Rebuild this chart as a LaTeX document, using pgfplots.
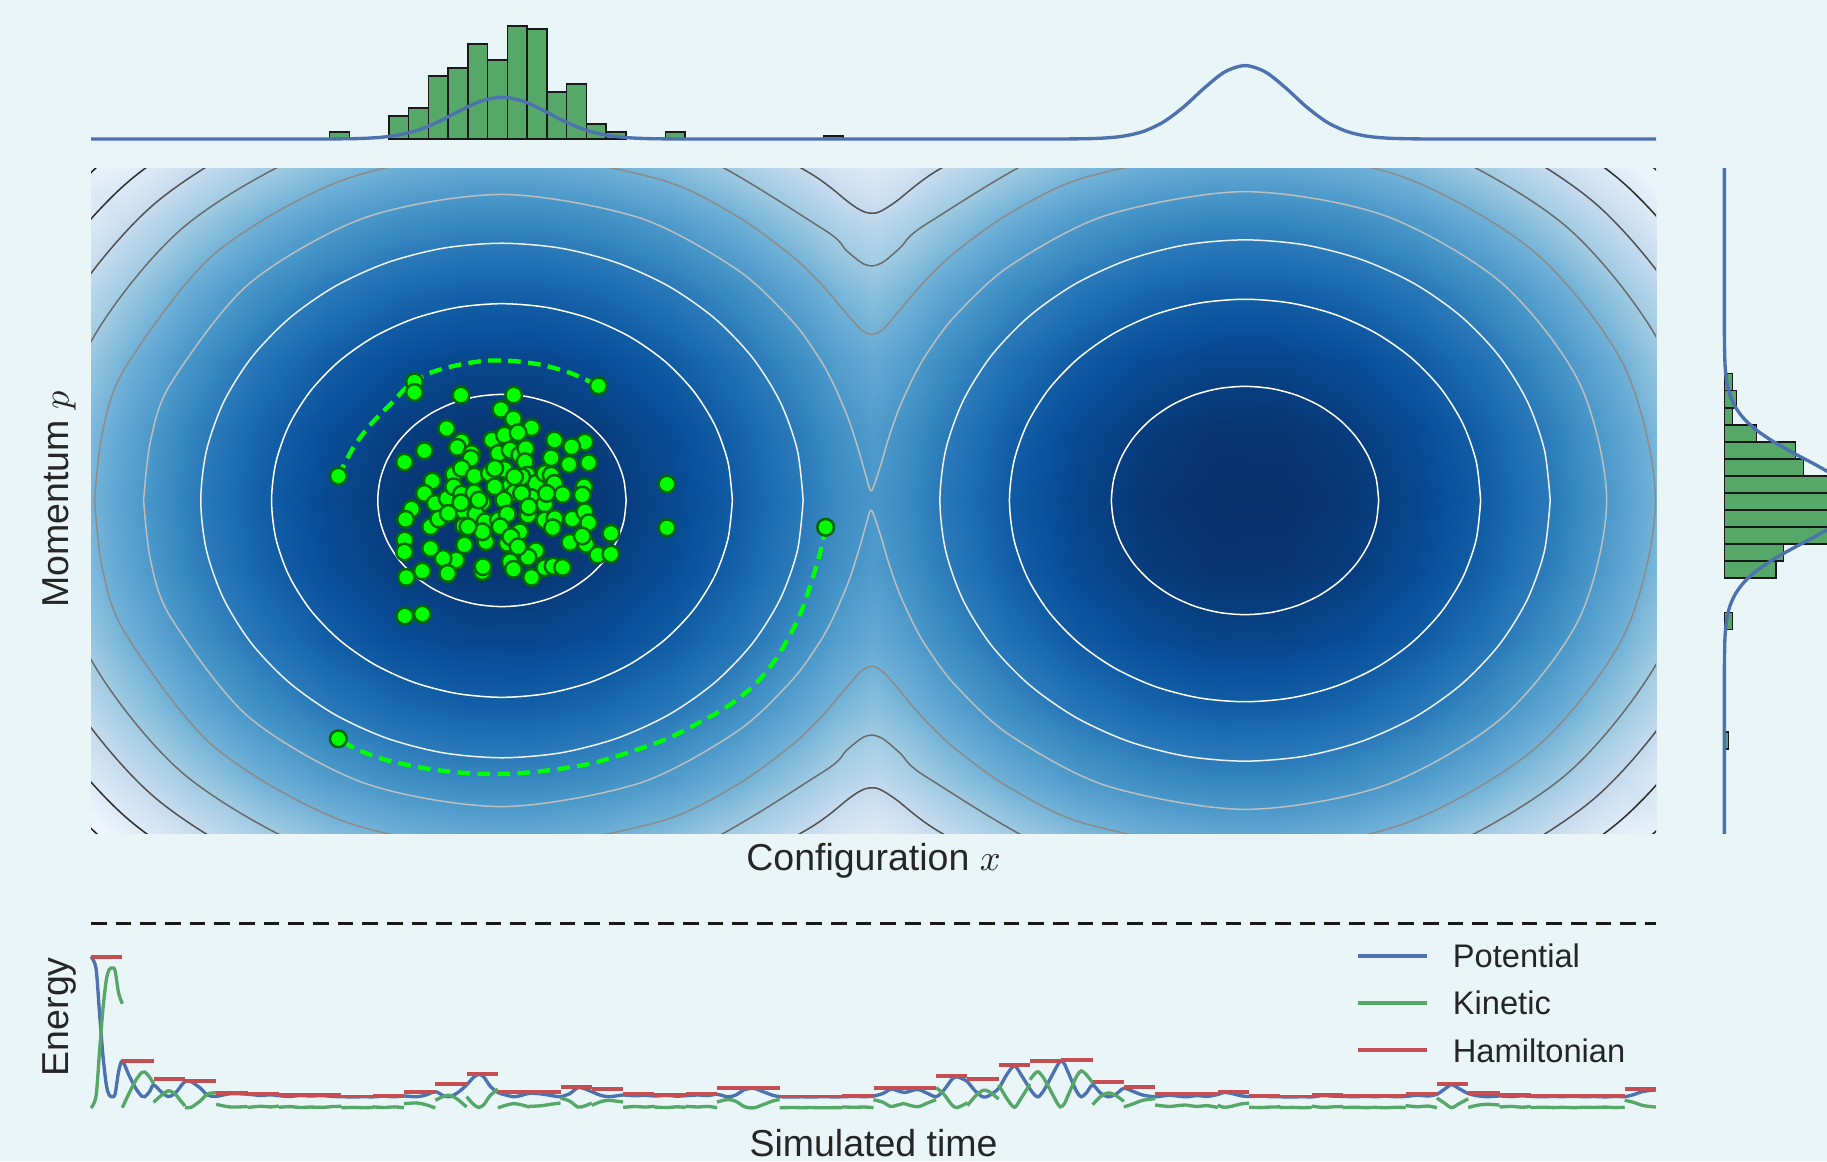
\documentclass[border=0pt]{standalone}
\usepackage{fontspec}
\setmainfont{Liberation Sans}
\usepackage{pgfplots}
\pgfplotsset{compat=1.18}
\definecolor{bgc}{RGB}{234,245,248}
\definecolor{sbblue}{RGB}{76,114,176}
\definecolor{sbgreen}{RGB}{85,168,104}
\definecolor{sbred}{RGB}{196,78,82}
\definecolor{txt}{RGB}{38,38,38}
\definecolor{dotgreen}{RGB}{0,255,0}
\definecolor{dotedge}{RGB}{0,105,0}
\pgfplotsset{
  bare/.style={scale only axis, hide axis, anchor=south west},
  cont/.style={smooth, line width=0.45pt},
  bars/.style={fill=sbgreen, draw=black!90, line width=0.5pt},
}
\begin{document}
\begin{tikzpicture}
\useasboundingbox (0pt,0pt) rectangle (548.1pt,348.3pt);
\clip (0pt,0pt) rectangle (548.1pt,348.3pt);
\fill[bgc] (0pt,0pt) rectangle (548.1pt,348.3pt);

% ---------- heat map of the Hamiltonian ----------
\begin{axis}[bare, at={(27.3pt,98.4pt)}, width=469.5pt, height=199.5pt,
  view={0}{90}, scale mode=stretch to fill,
  xmin=-5.739, xmax=5.739, ymin=-2.855, ymax=2.855,
  colormap={sbblues}{rgb255=(8,48,107) rgb255=(8,81,156) rgb255=(33,113,181) rgb255=(66,146,198) rgb255=(107,174,214) rgb255=(158,202,225) rgb255=(198,219,239) rgb255=(222,235,247) rgb255=(247,251,255)},
  point meta min=0, point meta max=17.4]
\addplot3[surf, shader=interp, point meta=z] table {
x y z
-6 -3 19.73
-5.5 -3 16.70
-5 -3 14.18
-4.5 -3 12.15
-4 -3 10.63
-3.5 -3 9.60
-3 -3 9.08
-2.5 -3 9.05
-2 -3 9.53
-1.5 -3 10.50
-1 -3 11.98
-0.5 -3 13.95
-0.25 -3 15.11
0 -3 15.90
0.25 -3 14.99
0.5 -3 13.82
1 -3 11.85
1.5 -3 10.37
2 -3 9.40
2.5 -3 8.92
3 -3 8.95
3.5 -3 9.47
4 -3 10.50
4.5 -3 12.02
5 -3 14.05
5.5 -3 16.57
6 -3 19.60

-6 -2.4 16.49
-5.5 -2.4 13.46
-5 -2.4 10.94
-4.5 -2.4 8.91
-4 -2.4 7.39
-3.5 -2.4 6.36
-3 -2.4 5.84
-2.5 -2.4 5.81
-2 -2.4 6.29
-1.5 -2.4 7.26
-1 -2.4 8.74
-0.5 -2.4 10.71
-0.25 -2.4 11.87
0 -2.4 12.66
0.25 -2.4 11.75
0.5 -2.4 10.58
1 -2.4 8.61
1.5 -2.4 7.13
2 -2.4 6.16
2.5 -2.4 5.68
3 -2.4 5.71
3.5 -2.4 6.23
4 -2.4 7.26
4.5 -2.4 8.78
5 -2.4 10.81
5.5 -2.4 13.33
6 -2.4 16.36

-6 -1.8 13.97
-5.5 -1.8 10.94
-5 -1.8 8.42
-4.5 -1.8 6.39
-4 -1.8 4.87
-3.5 -1.8 3.84
-3 -1.8 3.32
-2.5 -1.8 3.29
-2 -1.8 3.77
-1.5 -1.8 4.74
-1 -1.8 6.22
-0.5 -1.8 8.19
-0.25 -1.8 9.35
0 -1.8 10.14
0.25 -1.8 9.23
0.5 -1.8 8.06
1 -1.8 6.09
1.5 -1.8 4.61
2 -1.8 3.64
2.5 -1.8 3.16
3 -1.8 3.19
3.5 -1.8 3.71
4 -1.8 4.74
4.5 -1.8 6.26
5 -1.8 8.29
5.5 -1.8 10.81
6 -1.8 13.84

-6 -1.2 12.17
-5.5 -1.2 9.14
-5 -1.2 6.62
-4.5 -1.2 4.59
-4 -1.2 3.07
-3.5 -1.2 2.04
-3 -1.2 1.52
-2.5 -1.2 1.49
-2 -1.2 1.97
-1.5 -1.2 2.94
-1 -1.2 4.42
-0.5 -1.2 6.39
-0.25 -1.2 7.55
0 -1.2 8.34
0.25 -1.2 7.43
0.5 -1.2 6.26
1 -1.2 4.29
1.5 -1.2 2.81
2 -1.2 1.84
2.5 -1.2 1.36
3 -1.2 1.39
3.5 -1.2 1.91
4 -1.2 2.94
4.5 -1.2 4.46
5 -1.2 6.49
5.5 -1.2 9.01
6 -1.2 12.04

-6 -0.6 11.09
-5.5 -0.6 8.06
-5 -0.6 5.54
-4.5 -0.6 3.51
-4 -0.6 1.99
-3.5 -0.6 0.96
-3 -0.6 0.44
-2.5 -0.6 0.41
-2 -0.6 0.89
-1.5 -0.6 1.86
-1 -0.6 3.34
-0.5 -0.6 5.31
-0.25 -0.6 6.47
0 -0.6 7.26
0.25 -0.6 6.35
0.5 -0.6 5.18
1 -0.6 3.21
1.5 -0.6 1.73
2 -0.6 0.76
2.5 -0.6 0.28
3 -0.6 0.31
3.5 -0.6 0.83
4 -0.6 1.86
4.5 -0.6 3.38
5 -0.6 5.41
5.5 -0.6 7.93
6 -0.6 10.96

-6 0 10.73
-5.5 0 7.70
-5 0 5.18
-4.5 0 3.15
-4 0 1.63
-3.5 0 0.60
-3 0 0.08
-2.5 0 0.05
-2 0 0.53
-1.5 0 1.50
-1 0 2.98
-0.5 0 4.95
-0.25 0 6.11
0 0 6.90
0.25 0 5.99
0.5 0 4.82
1 0 2.85
1.5 0 1.37
2 0 0.40
2.5 0 -0.08
3 0 -0.05
3.5 0 0.47
4 0 1.50
4.5 0 3.02
5 0 5.05
5.5 0 7.57
6 0 10.60

-6 0.6 11.09
-5.5 0.6 8.06
-5 0.6 5.54
-4.5 0.6 3.51
-4 0.6 1.99
-3.5 0.6 0.96
-3 0.6 0.44
-2.5 0.6 0.41
-2 0.6 0.89
-1.5 0.6 1.86
-1 0.6 3.34
-0.5 0.6 5.31
-0.25 0.6 6.47
0 0.6 7.26
0.25 0.6 6.35
0.5 0.6 5.18
1 0.6 3.21
1.5 0.6 1.73
2 0.6 0.76
2.5 0.6 0.28
3 0.6 0.31
3.5 0.6 0.83
4 0.6 1.86
4.5 0.6 3.38
5 0.6 5.41
5.5 0.6 7.93
6 0.6 10.96

-6 1.2 12.17
-5.5 1.2 9.14
-5 1.2 6.62
-4.5 1.2 4.59
-4 1.2 3.07
-3.5 1.2 2.04
-3 1.2 1.52
-2.5 1.2 1.49
-2 1.2 1.97
-1.5 1.2 2.94
-1 1.2 4.42
-0.5 1.2 6.39
-0.25 1.2 7.55
0 1.2 8.34
0.25 1.2 7.43
0.5 1.2 6.26
1 1.2 4.29
1.5 1.2 2.81
2 1.2 1.84
2.5 1.2 1.36
3 1.2 1.39
3.5 1.2 1.91
4 1.2 2.94
4.5 1.2 4.46
5 1.2 6.49
5.5 1.2 9.01
6 1.2 12.04

-6 1.8 13.97
-5.5 1.8 10.94
-5 1.8 8.42
-4.5 1.8 6.39
-4 1.8 4.87
-3.5 1.8 3.84
-3 1.8 3.32
-2.5 1.8 3.29
-2 1.8 3.77
-1.5 1.8 4.74
-1 1.8 6.22
-0.5 1.8 8.19
-0.25 1.8 9.35
0 1.8 10.14
0.25 1.8 9.23
0.5 1.8 8.06
1 1.8 6.09
1.5 1.8 4.61
2 1.8 3.64
2.5 1.8 3.16
3 1.8 3.19
3.5 1.8 3.71
4 1.8 4.74
4.5 1.8 6.26
5 1.8 8.29
5.5 1.8 10.81
6 1.8 13.84

-6 2.4 16.49
-5.5 2.4 13.46
-5 2.4 10.94
-4.5 2.4 8.91
-4 2.4 7.39
-3.5 2.4 6.36
-3 2.4 5.84
-2.5 2.4 5.81
-2 2.4 6.29
-1.5 2.4 7.26
-1 2.4 8.74
-0.5 2.4 10.71
-0.25 2.4 11.87
0 2.4 12.66
0.25 2.4 11.75
0.5 2.4 10.58
1 2.4 8.61
1.5 2.4 7.13
2 2.4 6.16
2.5 2.4 5.68
3 2.4 5.71
3.5 2.4 6.23
4 2.4 7.26
4.5 2.4 8.78
5 2.4 10.81
5.5 2.4 13.33
6 2.4 16.36

-6 3 19.73
-5.5 3 16.70
-5 3 14.18
-4.5 3 12.15
-4 3 10.63
-3.5 3 9.60
-3 3 9.08
-2.5 3 9.05
-2 3 9.53
-1.5 3 10.50
-1 3 11.98
-0.5 3 13.95
-0.25 3 15.11
0 3 15.90
0.25 3 14.99
0.5 3 13.82
1 3 11.85
1.5 3 10.37
2 3 9.40
2.5 3 8.92
3 3 8.95
3.5 3 9.47
4 3 10.50
4.5 3 12.02
5 3 14.05
5.5 3 16.57
6 3 19.60
};
\end{axis}

% ---------- contours, trajectories, samples ----------
\begin{axis}[bare, at={(27.3pt,98.4pt)}, width=469.5pt, height=199.5pt,
  xmin=-5.739, xmax=5.739, ymin=-2.855, ymax=2.855]
% level 0
\addplot[cont, white] coordinates {(-1.814,0) (-1.8315,0.1777) (-1.8833,0.3486) (-1.9675,0.5061) (-2.0808,0.6442) (-2.2189,0.7575) (-2.3764,0.8417) (-2.5473,0.8935) (-2.725,0.911) (-2.9027,0.8935) (-3.0736,0.8417) (-3.2311,0.7575) (-3.3692,0.6442) (-3.4825,0.5061) (-3.5667,0.3486) (-3.6185,0.1777) (-3.636,0) (-3.6185,-0.1777) (-3.5667,-0.3486) (-3.4825,-0.5061) (-3.3692,-0.6442) (-3.2311,-0.7575) (-3.0736,-0.8417) (-2.9027,-0.8935) (-2.725,-0.911) (-2.5473,-0.8935) (-2.3764,-0.8417) (-2.2189,-0.7575) (-2.0808,-0.6442) (-1.9675,-0.5061) (-1.8833,-0.3486) (-1.8315,-0.1777) (-1.814,0)};
\addplot[cont, white] coordinates {(3.705,0) (3.6862,0.1912) (3.6304,0.375) (3.5398,0.5445) (3.418,0.693) (3.2695,0.8148) (3.1,0.9054) (2.9162,0.9612) (2.725,0.98) (2.5338,0.9612) (2.35,0.9054) (2.1805,0.8148) (2.032,0.693) (1.9102,0.5445) (1.8196,0.375) (1.7638,0.1912) (1.745,0) (1.7638,-0.1912) (1.8196,-0.375) (1.9102,-0.5445) (2.032,-0.693) (2.1805,-0.8148) (2.35,-0.9054) (2.5338,-0.9612) (2.725,-0.98) (2.9162,-0.9612) (3.1,-0.9054) (3.2695,-0.8148) (3.418,-0.693) (3.5398,-0.5445) (3.6304,-0.375) (3.6862,-0.1912) (3.705,0)};
% level 1
\addplot[cont, white] coordinates {(-1.035,0) (-1.0675,0.3297) (-1.1636,0.6467) (-1.3198,0.9389) (-1.53,1.195) (-1.7861,1.4052) (-2.0783,1.5614) (-2.3953,1.6575) (-2.725,1.69) (-3.0547,1.6575) (-3.3717,1.5614) (-3.6639,1.4052) (-3.92,1.195) (-4.1302,0.9389) (-4.2864,0.6467) (-4.3825,0.3297) (-4.415,0) (-4.3825,-0.3297) (-4.2864,-0.6467) (-4.1302,-0.9389) (-3.92,-1.195) (-3.6639,-1.4052) (-3.3717,-1.5614) (-3.0547,-1.6575) (-2.725,-1.69) (-2.3953,-1.6575) (-2.0783,-1.5614) (-1.7861,-1.4052) (-1.53,-1.195) (-1.3198,-0.9389) (-1.1636,-0.6467) (-1.0675,-0.3297) (-1.035,0)};
\addplot[cont, white] coordinates {(4.453,0) (4.4198,0.3371) (4.3215,0.6613) (4.1618,0.96) (3.9469,1.2219) (3.685,1.4368) (3.3863,1.5965) (3.0621,1.6948) (2.725,1.728) (2.3879,1.6948) (2.0637,1.5965) (1.765,1.4368) (1.5031,1.2219) (1.2882,0.96) (1.1285,0.6613) (1.0302,0.3371) (0.997,0) (1.0302,-0.3371) (1.1285,-0.6613) (1.2882,-0.96) (1.5031,-1.2219) (1.765,-1.4368) (2.0637,-1.5965) (2.3879,-1.6948) (2.725,-1.728) (3.0621,-1.6948) (3.3863,-1.5965) (3.685,-1.4368) (3.9469,-1.2219) (4.1618,-0.96) (4.3215,-0.6613) (4.4198,-0.3371) (4.453,0)};
% level 2
\addplot[cont, white!94!black] coordinates {(-0.516,0) (-0.5584,0.431) (-0.6841,0.8453) (-0.8883,1.2273) (-1.163,1.562) (-1.4977,1.8367) (-1.8797,2.0409) (-2.294,2.1666) (-2.725,2.209) (-3.156,2.1666) (-3.5703,2.0409) (-3.9523,1.8367) (-4.287,1.562) (-4.5617,1.2273) (-4.7659,0.8453) (-4.8916,0.431) (-4.934,0) (-4.8916,-0.431) (-4.7659,-0.8453) (-4.5617,-1.2273) (-4.287,-1.562) (-3.9523,-1.8367) (-3.5703,-2.0409) (-3.156,-2.1666) (-2.725,-2.209) (-2.294,-2.1666) (-1.8797,-2.0409) (-1.4977,-1.8367) (-1.163,-1.562) (-0.8883,-1.2273) (-0.6841,-0.8453) (-0.5584,-0.431) (-0.516,0)};
\addplot[cont, white!94!black] coordinates {(4.963,0) (4.92,0.4366) (4.7926,0.8564) (4.5858,1.2434) (4.3075,1.5825) (3.9684,1.8608) (3.5814,2.0676) (3.1616,2.195) (2.725,2.238) (2.2884,2.195) (1.8686,2.0676) (1.4816,1.8608) (1.1425,1.5825) (0.8642,1.2434) (0.6574,0.8564) (0.53,0.4366) (0.487,0) (0.53,-0.4366) (0.6574,-0.8564) (0.8642,-1.2434) (1.1425,-1.5825) (1.4816,-1.8608) (1.8686,-2.0676) (2.2884,-2.195) (2.725,-2.238) (3.1616,-2.195) (3.5814,-2.0676) (3.9684,-1.8608) (4.3075,-1.5825) (4.5858,-1.2434) (4.7926,-0.8564) (4.92,-0.4366) (4.963,0)};
% level 3 (separatrix)
\addplot[cont, white!74!black] coordinates {(-5.353,0) (-5.3025,0.5127) (-5.153,1.006) (-4.583,1.858) (-3.731,2.428) (-2.725,2.628) (-1.719,2.428) (-1.0,1.982) (-0.6,1.546) (-0.4,1.225) (-0.3,1.015) (-0.2,0.748) (-0.15,0.584) (-0.1,0.395) (-0.05,0.19) (-0.015,0.084) (0.05,0.293) (0.1,0.494) (0.15,0.671) (0.2,0.825) (0.3,1.076) (0.4,1.277) (0.6,1.587) (1.0,2.015) (1.710,2.450) (2.725,2.652) (3.740,2.450) (4.600,1.875) (5.175,1.015) (5.377,0) (5.175,-1.015) (4.600,-1.875) (3.740,-2.450) (2.725,-2.652) (1.710,-2.450) (1.0,-2.015) (0.6,-1.587) (0.4,-1.277) (0.3,-1.076) (0.2,-0.825) (0.15,-0.671) (0.1,-0.494) (0.05,-0.293) (-0.015,-0.084) (-0.05,-0.19) (-0.1,-0.395) (-0.15,-0.584) (-0.2,-0.748) (-0.3,-1.015) (-0.4,-1.225) (-0.6,-1.546) (-1.0,-1.982) (-1.719,-2.428) (-2.725,-2.628) (-3.731,-2.428) (-4.583,-1.858) (-5.153,-1.006) (-5.3025,-0.5127) (-5.353,0)};
% level 4
\addplot[cont, white!55!black] coordinates {(-5.713,0) (-5.6556,0.5829) (-5.486,1.144) (-4.838,2.113) (-3.869,2.761) (-2.725,2.988) (-1.581,2.761) (-1.0,2.440) (-0.6,2.101) (-0.4,1.878) (-0.3,1.748) (-0.2,1.608) (-0.1,1.477) (-0.05,1.436) (0,1.426) (0.05,1.453) (0.1,1.506) (0.2,1.645) (0.3,1.784) (0.4,1.912) (0.6,2.132) (1.0,2.467) (1.573,2.781) (2.725,3.010) (3.877,2.781) (4.853,2.128) (5.506,1.152) (5.735,0) (5.506,-1.152) (4.853,-2.128) (3.877,-2.781) (2.725,-3.010) (1.573,-2.781) (1.0,-2.467) (0.6,-2.132) (0.4,-1.912) (0.3,-1.784) (0.2,-1.645) (0.1,-1.506) (0.05,-1.453) (0,-1.426) (-0.05,-1.436) (-0.1,-1.477) (-0.2,-1.608) (-0.3,-1.748) (-0.4,-1.878) (-0.6,-2.101) (-1.0,-2.440) (-1.581,-2.761) (-2.725,-2.988) (-3.869,-2.761) (-4.838,-2.113) (-5.486,-1.144) (-5.6556,-0.5829) (-5.713,0)};
% level 5
\addplot[cont, white!42!black] coordinates {(-5.783,-1.267) (-6.035,0) (-5.783,1.267) (-5.066,2.341) (-3.992,3.058) (-2.725,3.31) (-1.458,3.058) (-0.384,2.341) (-0.2,2.147) (-0.1,2.051) (-0.05,2.021) (0,2.015) (0.05,2.034) (0.1,2.072) (0.2,2.175) (0.4,2.383) (1.451,3.076) (2.725,3.329) (3.999,3.076) (5.079,2.354) (5.801,1.274) (6.054,0) (5.801,-1.274) (5.079,-2.354) (3.999,-3.076) (2.725,-3.329) (1.451,-3.076) (0.4,-2.383) (0.2,-2.175) (0.1,-2.072) (0.05,-2.034) (0,-2.015) (-0.05,-2.021) (-0.1,-2.051) (-0.2,-2.147) (-0.384,-2.341) (-1.458,-3.058) (-2.725,-3.31) (-3.992,-3.058) (-5.066,-2.341) (-5.783,-1.267) (-6.035,0) (-5.783,1.267)};
% level 6
\addplot[cont, white!32!black] coordinates {(-6.054,-1.379) (-6.328,0) (-6.054,1.379) (-5.273,2.548) (-4.104,3.329) (-2.725,3.603) (-1.346,3.329) (-0.5,2.834) (-0.177,2.556) (-0.1,2.496) (-0.05,2.472) (0,2.467) (0.05,2.482) (0.165,2.567) (0.5,2.856) (1.339,3.345) (2.725,3.621) (4.111,3.345) (5.285,2.560) (6.070,1.386) (6.346,0) (6.070,-1.386) (5.285,-2.560) (4.111,-3.345) (2.725,-3.621) (1.339,-3.345) (0.5,-2.856) (0.165,-2.567) (0.05,-2.482) (0,-2.467) (-0.05,-2.472) (-0.1,-2.496) (-0.177,-2.556) (-0.5,-2.834) (-1.346,-3.329) (-2.725,-3.603) (-4.104,-3.329) (-5.273,-2.548) (-6.054,-1.379) (-6.328,0) (-6.054,1.379)};
% level 7
\addplot[cont, white!18!black] coordinates {(-6.304,-1.483) (-6.599,0) (-6.304,1.483) (-5.464,2.739) (-4.208,3.579) (-2.725,3.874) (-1.243,3.579) (-0.4,3.099) (0,2.93) (0.4,3.119) (1.236,3.594) (2.725,3.890) (4.214,3.594) (5.476,2.751) (6.319,1.489) (6.615,0) (6.319,-1.489) (5.476,-2.751) (4.214,-3.594) (2.725,-3.890) (1.236,-3.594) (0.4,-3.119) (0,-2.93) (-0.4,-3.099) (-1.243,-3.579) (-2.725,-3.874) (-4.208,-3.579) (-5.464,-2.739) (-6.304,-1.483) (-6.599,0) (-6.304,1.483)};
% level 8 (corners only)
\addplot[cont, white!12!black] coordinates {(-6.852,0) (-6.538,1.579) (-5.643,2.918) (-4.304,3.813)};
\addplot[cont, white!12!black] coordinates {(-6.852,0) (-6.538,-1.579) (-5.643,-2.918) (-4.304,-3.813)};
\addplot[cont, white!12!black] coordinates {(6.867,0) (6.552,1.585) (5.654,2.929) (4.310,3.827)};
\addplot[cont, white!12!black] coordinates {(6.867,0) (6.552,-1.585) (5.654,-2.929) (4.310,-3.827)};
% trajectories
\addplot[smooth, dotgreen, line width=1.3pt, dash pattern=on 3.8pt off 2.2pt] coordinates {(-3.925,0.210) (-3.812,0.461) (-3.681,0.662) (-3.524,0.848) (-3.420,0.976) (-3.262,1.091) (-3.053,1.162) (-2.843,1.200) (-2.633,1.197) (-2.424,1.162) (-2.214,1.091) (-2.018,0.985)};
\addplot[smooth, dotgreen, line width=1.3pt, dash pattern=on 3.8pt off 2.2pt] coordinates {(-0.351,-0.230) (-0.404,-0.503) (-0.516,-0.912) (-0.604,-1.135) (-0.715,-1.358) (-0.871,-1.581) (-1.071,-1.768) (-1.293,-1.916) (-1.515,-2.046) (-1.782,-2.158) (-2.049,-2.252) (-2.316,-2.307) (-2.627,-2.344) (-2.938,-2.344) (-3.249,-2.307) (-3.560,-2.233) (-3.783,-2.140) (-3.925,-2.046)};
% samples
\addplot[only marks, mark=*, mark size=2.5pt, mark options={fill=dotgreen, draw=dotedge, line width=0.75pt}] coordinates {
(-3.367,1.019) (-3.367,0.928) (-2.018,0.985) (-3.026,0.905) (-2.639,0.905) (-2.733,0.782) (-2.641,0.702) (-3.131,0.619) (-2.508,0.625) (-2.798,0.519)
(-2.707,0.562) (-2.607,0.582) (-3.021,0.505) (-3.053,0.456) (-2.948,0.404) (-2.953,0.361) (-3.294,0.427) (-3.440,0.330) (-2.751,0.404) (-2.665,0.433)
(-2.594,0.390) (-2.550,0.447) (-2.555,0.333) (-2.340,0.519) (-2.117,0.502) (-2.214,0.462) (-2.364,0.367) (-2.233,0.310) (-2.089,0.324) (-3.079,0.224)
(-3.021,0.276) (-2.927,0.210) (-2.817,0.233) (-2.707,0.267) (-2.660,0.133) (-2.537,0.218) (-2.476,0.147) (-2.411,0.233) (-2.364,0.218) (-2.340,0.147)
(-2.280,0.052) (-2.123,0.118) (-2.136,0.047) (-3.236,0.167) (-3.294,0.061) (-3.215,-0.025) (-3.126,0.018) (-3.079,0.118) (-3.021,0.055) (-2.929,0.067)
(-2.869,-0.016) (-2.633,0.067) (-2.581,0.204) (-2.508,0.024) (-2.411,-0.031) (-2.712,0.004) (-3.388,-0.073) (-3.432,-0.162) (-3.249,-0.225) (-3.189,-0.159)
(-3.118,-0.111) (-3.000,-0.096) (-2.916,-0.116) (-2.848,-0.182) (-3.005,-0.219) (-2.751,-0.168) (-2.686,-0.116) (-2.534,-0.125) (-2.411,-0.168) (-2.337,-0.154)
(-2.209,-0.159) (-2.117,-0.096) (-2.089,-0.191) (-2.353,-0.234) (-1.926,-0.282) (-2.227,-0.360) (-2.109,-0.374) (-2.136,-0.305) (-2.023,-0.468) (-1.926,-0.460)
(-2.476,-0.431) (-2.534,-0.488) (-2.686,-0.368) (-2.594,-0.268) (-2.843,-0.354) (-2.869,-0.268) (-3.000,-0.382) (-3.060,-0.511) (-3.157,-0.497) (-3.249,-0.411)
(-3.438,-0.339) (-3.440,-0.442) (-3.427,-0.660) (-3.309,-0.606) (-3.123,-0.626) (-2.869,-0.611) (-2.864,-0.568) (-2.665,-0.525) (-2.641,-0.591) (-2.508,-0.660)
(-2.411,-0.577) (-2.350,-0.563) (-2.280,-0.574) (-3.438,-0.992) (-3.309,-0.975) (-1.515,0.141) (-1.515,-0.234) (-3.925,0.210) (-0.351,-0.230) (-3.925,-2.046)
(-2.778,0.276) (-2.633,0.204) (-2.581,0.061) (-2.778,0.118) (-2.529,-0.053) (-2.738,-0.225) (-2.660,-0.311) (-2.974,-0.225) (-2.895,0.004) (-2.398,0.061)
(-3.026,-0.019) (-2.607,-0.397)};
\end{axis}

% ---------- top marginal ----------
\begin{axis}[bare, at={(27.3pt,305.7pt)}, width=469.5pt, height=38.4pt,
  xmin=-5.739, xmax=5.739, ymin=-3, ymax=125]
\addplot[ybar interval, bars] coordinates {(-3.9892,7.3) (-3.8443,7.3)};
\addplot[ybar interval, bars] coordinates {(-3.5546,23.3) (-3.4097,31) (-3.2649,63) (-3.1200,71) (-2.9751,94.7) (-2.8302,79) (-2.6854,113) (-2.5405,110) (-2.3956,47) (-2.2508,55) (-2.1059,15.3) (-1.9610,7.3) (-1.8162,7.3)};
\addplot[ybar interval, bars] coordinates {(-1.5264,7.3) (-1.3816,7.3)};
\addplot[ybar interval, bars] coordinates {(-0.3675,3) (-0.2226,3)};
\addplot[sbblue, line width=1pt, smooth] coordinates {(-6,0) (-4.5,0) (-4.075,0.02) (-3.925,0.12) (-3.775,0.46) (-3.625,1.53) (-3.475,4.20) (-3.325,9.60) (-3.175,18.25) (-3.025,28.88) (-2.875,38.04) (-2.725,41.7) (-2.575,38.04) (-2.425,28.88) (-2.275,18.25) (-2.125,9.60) (-1.975,4.20) (-1.825,1.53) (-1.675,0.46) (-1.525,0.12) (-1.375,0.02) (-1,0) (0,0) (1,0) (1.375,0.04) (1.525,0.21) (1.675,0.81) (1.825,2.69) (1.975,7.39) (2.125,16.89) (2.275,32.12) (2.425,50.84) (2.575,66.96) (2.725,73.4) (2.875,66.96) (3.025,50.84) (3.175,32.12) (3.325,16.89) (3.475,7.39) (3.625,2.69) (3.775,0.81) (3.925,0.21) (4.075,0.04) (4.5,0) (6,0)};
\end{axis}

% ---------- right marginal ----------
\begin{axis}[bare, at={(516.4pt,98.4pt)}, width=45.9pt, height=199.5pt,
  xmin=-3, xmax=150, ymin=-2.855, ymax=2.855]
\addplot[xbar interval, bars] coordinates {(4,-2.133) (4,-1.9865)};
\addplot[xbar interval, bars] coordinates {(8,-1.1075) (8,-0.961)};
\addplot[xbar interval, bars] coordinates {(51.7,-0.668) (59.3,-0.5215) (110,-0.375) (108,-0.2285) (112,-0.082) (105,0.0645) (79,0.211) (71,0.3575) (32,0.504) (8,0.6505) (12,0.797) (8,0.9435) (8,1.090)};
\addplot[sbblue, line width=1pt, smooth] coordinates {(0,-3) (0,-1.6) (0.07,-1.4) (0.52,-1.2) (1.25,-1.1) (2.8,-1.0) (5.8,-0.9) (11.2,-0.8) (19.9,-0.7) (32.8,-0.6) (50.1,-0.5) (70.8,-0.4) (92.7,-0.3) (112.3,-0.2) (126.1,-0.1) (131,0) (126.1,0.1) (112.3,0.2) (92.7,0.3) (70.8,0.4) (50.1,0.5) (32.8,0.6) (19.9,0.7) (11.2,0.8) (5.8,0.9) (2.8,1.0) (1.25,1.1) (0.52,1.2) (0.07,1.4) (0,1.6) (0,3)};
\end{axis}

% ---------- energy trace ----------
\begin{axis}[bare, at={(27.3pt,15pt)}, width=469.5pt, height=57.9pt,
  xmin=0, xmax=50, ymin=-3, ymax=190, clip=false,
  legend style={at={(0.8084,0.901)}, anchor=north west, draw=none, fill=none,
    inner sep=0pt, outer sep=0pt, row sep=1.6pt, column sep=5.2pt,
    font=\fontsize{9.8pt}{11pt}\selectfont, text=txt},
  legend cell align=left,
  legend image code/.code={\draw[#1, line width=1.2pt] plot coordinates {(0pt,0.7pt) (20.6pt,0.7pt)};}]
\addplot[forget plot, black!90, line width=0.9pt, dash pattern=on 4.7pt off 2.7pt] coordinates {(0,185) (50,185)};
\addplot[sbblue, line width=1pt, smooth] coordinates {
(0,151.3) (0.16,139.7) (0.27,96) (0.38,53) (0.49,23) (0.58,13) (0.68,11.3) (0.77,14) (0.88,36)
(1.0,47) (1.21,33) (1.43,19.7) (1.62,11.8) (1.72,11.3) (1.87,16.3)
(2.0,23) (2.25,16) (2.47,11.5) (2.69,14.7) (2.85,21)
(3.0,26.5) (3.2,26.3) (3.5,19.7) (3.72,13)
(4.0,11.6) (4.45,14.3)
(5.0,13.8) (5.4,12.6) (5.75,13.2)
(6.0,12.3) (6.35,11.6) (6.7,12.5)
(7.0,12.0) (7.4,12.4) (7.7,11.6)
(8.0,11.3) (8.4,11.0) (8.7,11.3)
(9.0,11.1) (9.35,11.8) (9.7,11.2)
(10.0,12.0) (10.4,11.2) (10.7,13.0)
(11.0,16.3) (11.25,12.5) (11.45,11.2) (11.7,15)
(12.0,23) (12.2,30) (12.38,33.7) (12.55,31) (12.75,22)
(13.0,15.5) (13.25,13) (13.5,11.3) (13.75,12.5)
(14.0,14.7) (14.4,14.0) (14.7,12.5)
(15.0,11.3) (15.3,14.5) (15.55,20.3) (15.75,19.5)
(16.0,16.3) (16.3,12.5) (16.55,11.3) (16.8,12.2)
(17.0,13.0) (17.4,12.2) (17.7,12.8)
(18.0,12.0) (18.4,12.6) (18.7,11.8)
(19.0,12.3) (19.4,13.0) (19.7,12.4)
(20.0,13.7) (20.35,11.2) (20.6,13) (20.85,18)
(21.0,19.3) (21.2,19.5) (21.5,16) (21.8,12.5)
(22.0,11.3) (22.4,11.0) (22.7,11.2)
(23.0,11.0) (23.4,11.3) (23.7,11.1)
(24.0,11.2) (24.4,11.6) (24.7,11.3)
(25.0,12.0) (25.3,14.5) (25.55,18.8) (25.75,17.5)
(26.0,15.5) (26.4,18.5) (26.7,15)
(27.0,11.3) (27.25,18) (27.5,28.5) (27.65,31.3) (27.85,29)
(28.0,26.3) (28.25,17) (28.5,11.0) (28.7,12.5)
(29.0,19.7) (29.25,33) (29.5,42.3) (29.7,34)
(30.0,19.0) (30.15,13) (30.27,11.2) (30.45,18) (30.71,33) (30.9,44)
(31.0,47) (31.1,44) (31.3,29.7) (31.5,16) (31.64,11.2) (31.8,15)
(32.0,23) (32.25,15) (32.5,11.2) (32.75,14)
(33.0,19.7) (33.3,16.5) (33.6,13)
(34.0,11.3) (34.45,12.8) (34.75,11.8)
(35.0,11.2) (35.35,12.5) (35.65,11.6)
(36.0,13.5) (36.2,15.6) (36.45,14.5) (36.75,12.2)
(37.0,11.5) (37.4,11.9) (37.7,11.3)
(38.0,11.2) (38.4,11.0) (38.7,11.3)
(39.0,11.1) (39.35,12.4) (39.7,11.8)
(40.0,11.6) (40.4,11.2) (40.7,11.7)
(41.0,11.3) (41.4,11.8) (41.7,11.2)
(42.0,11.6) (42.4,12.8) (42.7,12.0)
(43.0,13.7) (43.25,19) (43.47,23.3) (43.7,19.5)
(44.0,14.5) (44.3,12.2) (44.6,11.3)
(45.0,12.0) (45.4,11.4) (45.7,12.2)
(46.0,11.6) (46.4,11.2) (46.7,11.6)
(47.0,11.3) (47.4,11.7) (47.7,11.2)
(48.0,11.5) (48.4,11.1) (48.7,11.6)
(49.0,11.3) (49.3,13.5) (49.55,16.3) (49.8,17.5) (50.0,18.0)};
\addplot[sbgreen, line width=1pt, smooth, unbounded coords=jump] coordinates {
(0,0) (0.16,11.6) (0.27,55.3) (0.38,98.3) (0.49,128.3) (0.58,138.3) (0.68,140) (0.77,137.3) (0.88,115.3) (1.0,104.3) (1,nan)
(1.0,0.3) (1.21,14.3) (1.43,27.6) (1.62,35.5) (1.72,36) (1.87,31) (2.0,24.3) (2,nan)
(2.0,5.7) (2.25,12.7) (2.47,17.2) (2.69,14) (2.85,7.7) (3.0,2.2) (3,nan)
(3.0,0.5) (3.2,0.7) (3.5,7.3) (3.72,14) (4.0,15.4) (4,nan)
(4.0,3.7) (4.45,1.0) (5.0,1.5) (5,nan)
(5.0,0.5) (5.4,1.7) (5.75,1.1) (6.0,2.0) (6,nan)
(6.0,0.7) (6.35,1.4) (6.7,0.5) (7.0,1.0) (7,nan)
(7.0,1.0) (7.4,0.6) (7.7,1.4) (8.0,1.7) (8,nan)
(8.0,0.3) (8.4,0.6) (8.7,0.3) (9.0,0.5) (9,nan)
(9.0,1.2) (9.35,0.5) (9.7,1.1) (10.0,0.3) (10,nan)
(10.0,4.3) (10.4,5.1) (10.7,3.3) (11.0,0) (11,nan)
(11.0,7.7) (11.25,11.5) (11.45,12.8) (11.7,9) (12.0,1) (12,nan)
(12.0,11.3) (12.2,4.3) (12.38,0.6) (12.55,3.3) (12.75,12.3) (13.0,18.8) (13,nan)
(13.0,0.2) (13.25,2.7) (13.5,4.4) (13.75,3.2) (14.0,1.0) (14,nan)
(14.0,1.6) (14.4,2.3) (14.7,3.8) (15.0,5.0) (15,nan)
(15.0,10) (15.3,6.8) (15.55,1.0) (15.75,1.8) (16.0,5.0) (16,nan)
(16.0,2.7) (16.3,6.5) (16.55,7.7) (16.8,6.8) (17.0,6.0) (17,nan)
(17.0,0.7) (17.4,1.5) (17.7,0.9) (18.0,1.7) (18,nan)
(18.0,1.0) (18.4,0.4) (18.7,1.2) (19.0,0.7) (19,nan)
(19.0,1.7) (19.4,1.0) (19.7,1.6) (20.0,0.3) (20,nan)
(20.0,6.0) (20.35,8.5) (20.6,6.7) (20.85,1.7) (21.0,0.4) (21,nan)
(21.0,0.4) (21.2,0.2) (21.5,3.7) (21.8,7.2) (22.0,8.4) (22,nan)
(22.0,0.2) (22.4,0.5) (22.7,0.3) (23.0,0.5) (23,nan)
(23.0,0.5) (23.4,0.2) (23.7,0.4) (24.0,0.3) (24,nan)
(24.0,1.1) (24.4,0.7) (24.7,1.0) (25.0,0.3) (25,nan)
(25.0,8.3) (25.3,5.8) (25.55,1.5) (25.75,2.8) (26.0,4.8) (26,nan)
(26.0,4.2) (26.4,1.2) (26.7,4.7) (27.0,8.4) (27,nan)
(27.0,20.4) (27.25,13.7) (27.5,3.2) (27.65,0.4) (27.85,2.7) (28.0,5.4) (28,nan)
(28.0,2.4) (28.25,11.7) (28.5,17.7) (28.7,16.2) (29.0,9.0) (29,nan)
(29.0,23.3) (29.25,10) (29.5,0.7) (29.7,9) (30.0,24) (30,nan)
(30.0,28.3) (30.15,34.3) (30.27,36.1) (30.45,29.3) (30.71,14.3) (30.9,3.3) (31.0,0.3) (31,nan)
(31.0,1.3) (31.1,4.3) (31.3,18.6) (31.5,32.3) (31.64,37.1) (31.8,33.3) (32.0,25.3) (32,nan)
(32.0,3.3) (32.25,11.3) (32.5,15.1) (32.75,12.3) (33.0,6.6) (33,nan)
(33.0,1.0) (33.3,4.2) (33.6,7.7) (34.0,9.4) (34,nan)
(34.0,3.0) (34.45,1.5) (34.75,2.5) (35.0,3.1) (35,nan)
(35.0,2.8) (35.35,1.5) (35.65,2.4) (36.0,0.5) (36,nan)
(36.0,2.8) (36.2,0.7) (36.45,1.8) (36.75,4.1) (37.0,4.8) (37,nan)
(37.0,0.8) (37.4,0.4) (37.7,1.0) (38.0,1.1) (38,nan)
(38.0,0.4) (38.4,0.6) (38.7,0.3) (39.0,0.5) (39,nan)
(39.0,1.9) (39.35,0.6) (39.7,1.2) (40.0,1.4) (40,nan)
(40.0,0.4) (40.4,0.8) (40.7,0.3) (41.0,0.7) (41,nan)
(41.0,0.7) (41.4,0.2) (41.7,0.8) (42.0,0.4) (42,nan)
(42.0,2.4) (42.4,1.2) (42.7,2.0) (43.0,0.3) (43,nan)
(43.0,10) (43.25,4.7) (43.47,0.4) (43.7,4.2) (44.0,9.2) (44,nan)
(44.0,0.5) (44.3,2.8) (44.6,3.7) (45.0,3.0) (45,nan)
(45.0,1.0) (45.4,1.6) (45.7,0.8) (46.0,1.4) (46,nan)
(46.0,0.4) (46.4,0.8) (46.7,0.4) (47.0,0.7) (47,nan)
(47.0,0.7) (47.4,0.3) (47.7,0.8) (48.0,0.5) (48,nan)
(48.0,0.5) (48.4,0.9) (48.7,0.4) (49.0,0.7) (49,nan)
(49.0,7.7) (49.3,5.5) (49.55,2.7) (49.8,1.5) (50.0,1.0)};
\addplot[sbred, line width=1.1pt, jump mark left] coordinates {(0,151.3) (1,47.3) (2,28.7) (3,27) (4,15.3) (5,14.3) (6,13) (7,13) (8,11.6) (9,12.3) (10,16.3) (11,24) (12,34.3) (13,15.7) (14,16.3) (15,21.3) (16,19) (17,13.7) (18,13) (19,14) (20,19.7) (21,19.7) (22,11.5) (23,11.5) (24,12.3) (25,20.3) (26,19.7) (27,31.7) (28,28.7) (29,43) (30,47.3) (31,48.3) (32,26.3) (33,20.7) (34,14.3) (35,14) (36,16.3) (37,12.3) (38,11.6) (39,13) (40,12) (41,12) (42,14) (43,23.7) (44,15) (45,13) (46,12) (47,12) (48,12) (49,19) (50,19)};
\legend{Potential,Kinetic,Hamiltonian}
\end{axis}

% ---------- labels ----------
\node[anchor=base, text=txt, font=\fontsize{11.25pt}{13pt}\selectfont] at (262.05pt,87.2pt) {Configuration $x$};
\node[anchor=base, text=txt, font=\fontsize{11.25pt}{13pt}\selectfont] at (262.05pt,1.5pt) {Simulated time};
\node[rotate=90, anchor=base, text=txt, font=\fontsize{11.25pt}{13pt}\selectfont] at (20.6pt,198.5pt) {Momentum $p$};
\node[rotate=90, anchor=base, text=txt, font=\fontsize{11.25pt}{13pt}\selectfont] at (20.6pt,43.3pt) {Energy};
\end{tikzpicture}
\end{document}
